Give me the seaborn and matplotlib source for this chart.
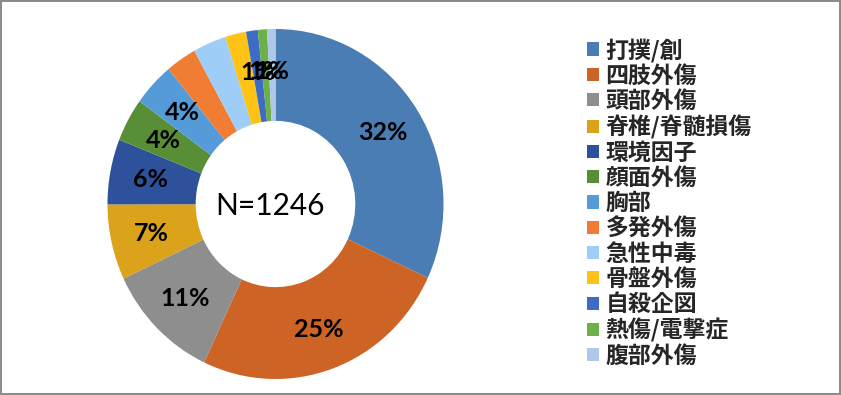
import matplotlib
matplotlib.use("Agg")
import matplotlib.pyplot as plt
import seaborn as sns
import numpy as np

# data (N=1246)
categories = ['打撲/創', '四肢外傷', '頭部外傷', '脊椎/脊髄損傷', '環境因子', '顔面外傷',
              '胸部', '多発外傷', '急性中毒', '骨盤外傷', '自殺企図', '熱傷/電撃症', '腹部外傷']
counts = [398, 312, 137, 87, 75, 50, 50, 37, 40, 25, 14, 11, 10]
shown_labels = ['32%', '25%', '11%', '7%', '6%', '4%', '4%', '', '', '', '1%', '1%', '1%']
colors = ['#4A7DB3', '#CD6426', '#8E8E8E', '#DBA31B', '#2E519C', '#578E36',
          '#559BD8', '#F17C34', '#9ECDF8', '#FFC316', '#3C6CC4', '#6DB047', '#AFC7E8']
total = sum(counts)

sns.set_theme(style="white")
plt.rcParams['font.family'] = ['Noto Sans CJK JP', 'DejaVu Sans']
palette = sns.color_palette(colors)

fig = plt.figure(figsize=(8.41, 3.95), dpi=100)
fig.patch.set_facecolor('white')
fig.patch.set_edgecolor('#8C8C8C')
fig.patch.set_linewidth(1.5)

# slightly elliptical ring like the excel original
ax = fig.add_axes([(275.5 - 168) / 841, (395 - 204 - 175) / 395, 336 / 841, 350 / 395])
wedges, _ = ax.pie(counts, colors=palette, startangle=90, counterclock=False,
                   radius=1.0, wedgeprops=dict(width=0.525, linewidth=0))
ax.set_xlim(-1.0, 1.0)
ax.set_ylim(-1.0, 1.0)
ax.set_aspect('auto')
ax.axis('off')

# percent labels in middle of ring
cum = 0
for c, lab in zip(counts, shown_labels):
    mid = (cum + c / 2) / total
    cum += c
    if not lab:
        continue
    ang = np.deg2rad(90 - 360 * mid)
    r = 0.76
    ax.text(r * np.cos(ang), r * np.sin(ang), lab, ha='center', va='center',
            fontsize=18, fontweight='bold', family=['Lato', 'DejaVu Sans'], color='black')

ax.text(-0.03, -0.01, 'N=1246', ha='center', va='center', fontsize=21.5,
        family=['Lato', 'DejaVu Sans'], color='black')

leg = fig.legend(wedges, categories, loc='upper left',
                 bbox_to_anchor=(578 / 841, 1 - 29 / 395), frameon=False,
                 prop=dict(family=['Noto Sans CJK JP', 'DejaVu Sans'], weight='bold', size=16.5),
                 handlelength=0.5, handleheight=0.5, handletextpad=0.3,
                 labelspacing=0.1, borderaxespad=0)

fig.savefig('out.png', dpi=100, facecolor=fig.get_facecolor(), edgecolor=fig.get_edgecolor())
